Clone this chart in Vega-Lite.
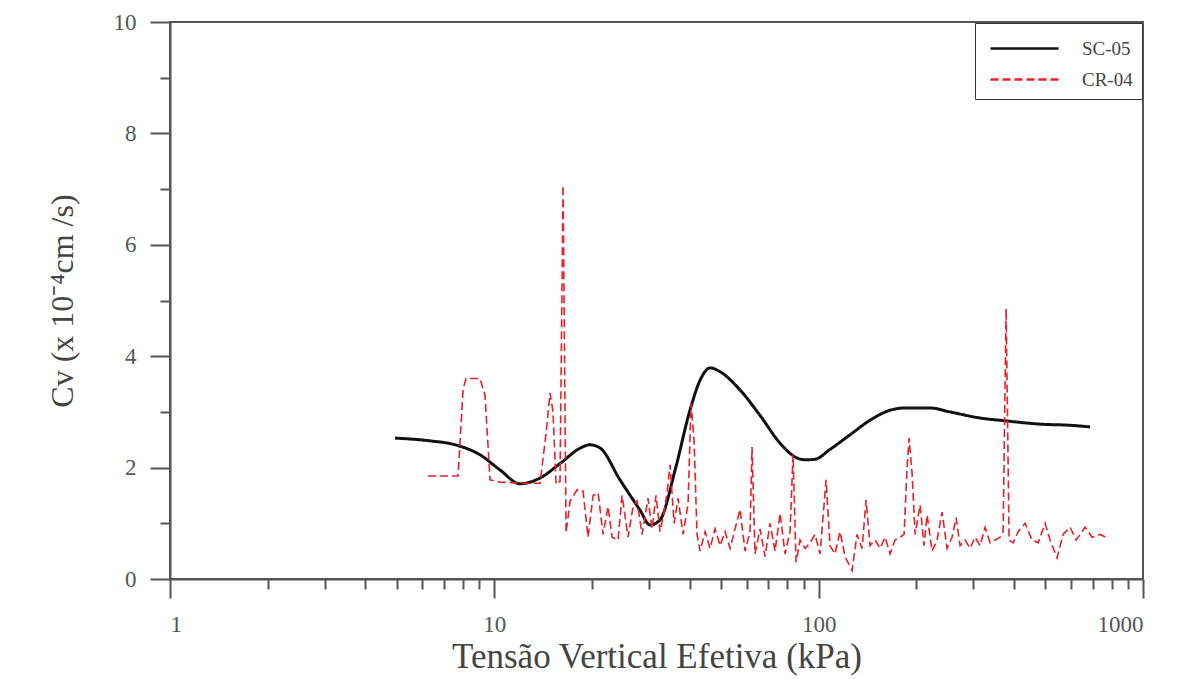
{
  "$schema": "https://vega.github.io/schema/vega-lite/v6.json",
  "width": 973,
  "height": 557,
  "autosize": {"type": "none"},
  "padding": {"left": 170, "top": 22, "right": 37, "bottom": 109},
  "background": "white",
  "config": {
    "view": {"stroke": "#555", "strokeWidth": 2},
    "font": "Liberation Serif, Times New Roman, serif"
  },
  "datasets": {
    "sc05": [
      {"x": 4.94, "y": 2.53}, {"x": 6.34, "y": 2.48}, {"x": 7.57, "y": 2.41}, {"x": 9.03, "y": 2.23},
      {"x": 10.4, "y": 1.96}, {"x": 12.0, "y": 1.71}, {"x": 13.8, "y": 1.81}, {"x": 16.0, "y": 2.08},
      {"x": 18.4, "y": 2.35}, {"x": 19.7, "y": 2.41}, {"x": 21.2, "y": 2.35}, {"x": 24.4, "y": 1.78},
      {"x": 28.1, "y": 1.24}, {"x": 30.2, "y": 0.97}, {"x": 32.4, "y": 1.06}, {"x": 36.1, "y": 1.96},
      {"x": 40.1, "y": 3.03}, {"x": 43.1, "y": 3.57}, {"x": 46.3, "y": 3.79}, {"x": 49.7, "y": 3.72},
      {"x": 57.3, "y": 3.39}, {"x": 65.9, "y": 2.94}, {"x": 76.0, "y": 2.44}, {"x": 84.6, "y": 2.19},
      {"x": 90.8, "y": 2.14}, {"x": 97.5, "y": 2.15}, {"x": 108, "y": 2.32}, {"x": 125, "y": 2.59},
      {"x": 144, "y": 2.85}, {"x": 166, "y": 3.03}, {"x": 185, "y": 3.07}, {"x": 221, "y": 3.07},
      {"x": 254, "y": 3.0}, {"x": 315, "y": 2.89}, {"x": 376, "y": 2.84}, {"x": 482, "y": 2.78},
      {"x": 596, "y": 2.76}, {"x": 687, "y": 2.73}
    ],
    "sc05b": [
      {"x": 4.94, "y": 2.53}, {"x": 7.57, "y": 2.43}, {"x": 9.03, "y": 2.27}, {"x": 10.4, "y": 2.0},
      {"x": 12.0, "y": 1.75}, {"x": 13.8, "y": 1.78}, {"x": 16.0, "y": 2.03}, {"x": 18.4, "y": 2.28},
      {"x": 20.5, "y": 2.38}, {"x": 22.0, "y": 2.3}, {"x": 25.4, "y": 1.75}, {"x": 29.0, "y": 1.2},
      {"x": 31.0, "y": 1.0}, {"x": 33.0, "y": 1.1}, {"x": 37.0, "y": 2.0}, {"x": 41.0, "y": 3.0},
      {"x": 44.0, "y": 3.5}, {"x": 47.5, "y": 3.75}, {"x": 51.0, "y": 3.68}, {"x": 59.0, "y": 3.35},
      {"x": 68.0, "y": 2.9}, {"x": 79.0, "y": 2.4}, {"x": 88.0, "y": 2.18}, {"x": 95.0, "y": 2.12},
      {"x": 102, "y": 2.16}, {"x": 112, "y": 2.3}, {"x": 128, "y": 2.55}, {"x": 148, "y": 2.82},
      {"x": 170, "y": 3.0}, {"x": 200, "y": 3.03}, {"x": 240, "y": 3.0}, {"x": 300, "y": 2.9},
      {"x": 376, "y": 2.84}, {"x": 482, "y": 2.79}, {"x": 687, "y": 2.74}
    ],
    "cr04": [
      {"x": 6.25, "y": 1.85}, {"x": 7.73, "y": 1.85}, {"x": 8.01, "y": 3.4}, {"x": 8.18, "y": 3.6},
      {"x": 9.03, "y": 3.6}, {"x": 9.36, "y": 3.3}, {"x": 9.70, "y": 1.78}, {"x": 10.41, "y": 1.74},
      {"x": 12.0, "y": 1.72}, {"x": 13.83, "y": 1.72}, {"x": 14.43, "y": 2.6}, {"x": 14.85, "y": 3.34},
      {"x": 15.17, "y": 3.0}, {"x": 15.50, "y": 1.7}, {"x": 15.94, "y": 1.75}, {"x": 16.29, "y": 7.07},
      {"x": 16.64, "y": 0.83}, {"x": 17.12, "y": 1.4}, {"x": 17.99, "y": 1.6}, {"x": 18.77, "y": 1.58},
      {"x": 19.45, "y": 0.75}, {"x": 20.16, "y": 1.5}, {"x": 20.89, "y": 1.55}, {"x": 21.64, "y": 0.8},
      {"x": 22.42, "y": 1.3}, {"x": 23.07, "y": 0.75}, {"x": 24.07, "y": 0.7}, {"x": 24.76, "y": 1.5},
      {"x": 25.84, "y": 0.75}, {"x": 26.78, "y": 1.3}, {"x": 27.54, "y": 1.4}, {"x": 28.54, "y": 0.8},
      {"x": 29.78, "y": 1.45}, {"x": 30.64, "y": 0.9}, {"x": 31.52, "y": 1.5}, {"x": 32.43, "y": 0.85},
      {"x": 33.37, "y": 1.2}, {"x": 34.09, "y": 1.55}, {"x": 34.82, "y": 2.05}, {"x": 35.83, "y": 1.0},
      {"x": 36.86, "y": 1.45}, {"x": 38.19, "y": 0.8}, {"x": 39.57, "y": 1.35}, {"x": 40.41, "y": 3.15},
      {"x": 41.28, "y": 2.5}, {"x": 42.17, "y": 0.8}, {"x": 43.09, "y": 0.5}, {"x": 44.64, "y": 0.85},
      {"x": 46.25, "y": 0.55}, {"x": 47.92, "y": 0.9}, {"x": 49.66, "y": 0.6}, {"x": 51.45, "y": 0.85},
      {"x": 53.31, "y": 0.55}, {"x": 55.23, "y": 0.9}, {"x": 57.23, "y": 1.25}, {"x": 59.30, "y": 0.5},
      {"x": 61.43, "y": 0.85}, {"x": 62.31, "y": 2.37}, {"x": 63.65, "y": 0.45}, {"x": 65.95, "y": 0.9},
      {"x": 68.33, "y": 0.4}, {"x": 70.80, "y": 1.0}, {"x": 73.36, "y": 0.5}, {"x": 76.03, "y": 1.18},
      {"x": 78.77, "y": 0.45}, {"x": 81.61, "y": 0.85}, {"x": 83.38, "y": 2.23}, {"x": 85.17, "y": 0.3},
      {"x": 87.61, "y": 0.7}, {"x": 90.82, "y": 0.55}, {"x": 94.09, "y": 0.65}, {"x": 97.48, "y": 0.8},
      {"x": 101.0, "y": 0.45}, {"x": 105.4, "y": 1.78}, {"x": 108.4, "y": 0.6}, {"x": 112.3, "y": 0.45},
      {"x": 116.4, "y": 0.85}, {"x": 120.6, "y": 0.4}, {"x": 126.8, "y": 0.15}, {"x": 131.3, "y": 0.8},
      {"x": 136.1, "y": 0.55}, {"x": 140.0, "y": 1.42}, {"x": 144.0, "y": 0.6}, {"x": 149.3, "y": 0.7},
      {"x": 154.6, "y": 0.55}, {"x": 160.3, "y": 0.75}, {"x": 166.0, "y": 0.45}, {"x": 172.0, "y": 0.7},
      {"x": 178.2, "y": 0.75}, {"x": 183.4, "y": 0.8}, {"x": 187.3, "y": 2.0}, {"x": 190.0, "y": 2.53},
      {"x": 194.1, "y": 1.9}, {"x": 198.3, "y": 0.8}, {"x": 205.5, "y": 1.33}, {"x": 211.3, "y": 0.6},
      {"x": 215.9, "y": 1.15}, {"x": 223.7, "y": 0.5}, {"x": 231.8, "y": 0.7}, {"x": 240.2, "y": 1.2},
      {"x": 248.8, "y": 0.55}, {"x": 257.8, "y": 0.75}, {"x": 265.3, "y": 1.1}, {"x": 272.9, "y": 0.6},
      {"x": 282.8, "y": 0.7}, {"x": 293.0, "y": 0.55}, {"x": 303.6, "y": 0.75}, {"x": 314.5, "y": 0.6},
      {"x": 326.0, "y": 0.93}, {"x": 337.7, "y": 0.65}, {"x": 349.9, "y": 0.7}, {"x": 362.6, "y": 0.75},
      {"x": 370.4, "y": 0.85}, {"x": 378.4, "y": 4.85}, {"x": 386.5, "y": 0.7}, {"x": 397.6, "y": 0.65},
      {"x": 412.0, "y": 0.85}, {"x": 432.9, "y": 1.0}, {"x": 455.0, "y": 0.7}, {"x": 474.8, "y": 0.65},
      {"x": 499.1, "y": 1.0}, {"x": 516.9, "y": 0.7}, {"x": 543.4, "y": 0.38}, {"x": 567.0, "y": 0.8},
      {"x": 596.0, "y": 0.93}, {"x": 622.0, "y": 0.7}, {"x": 662.9, "y": 0.93}, {"x": 696.6, "y": 0.75},
      {"x": 737.5, "y": 0.8}, {"x": 780.5, "y": 0.73}
    ]
  },
  "layer": [
    {
      "data": {"name": "sc05"},
      "transform": [{"calculate": "'SC-05'", "as": "serie"}],
      "mark": {"type": "line", "strokeWidth": 3, "interpolate": "monotone"},
      "encoding": {
        "x": {"field": "x", "type": "quantitative"},
        "y": {"field": "y", "type": "quantitative"},
        "color": {"field": "serie", "type": "nominal"},
        "strokeDash": {"field": "serie", "type": "nominal"}
      }
    },
    {
      "data": {"name": "sc05b"},
      "mark": {"type": "line", "strokeWidth": 1.3, "color": "#777", "interpolate": "monotone"},
      "encoding": {
        "x": {"field": "x", "type": "quantitative"},
        "y": {"field": "y", "type": "quantitative"}
      }
    },
    {
      "data": {"name": "cr04"},
      "transform": [{"calculate": "'CR-04'", "as": "serie"}],
      "mark": {"type": "line", "strokeWidth": 1.6},
      "encoding": {
        "x": {"field": "x", "type": "quantitative"},
        "y": {"field": "y", "type": "quantitative"},
        "color": {"field": "serie", "type": "nominal"},
        "strokeDash": {"field": "serie", "type": "nominal"}
      }
    }
  ],
  "encoding": {
    "x": {
      "field": "x", "type": "quantitative",
      "scale": {"type": "log", "domain": [1, 1000], "nice": false},
      "axis": {
        "title": "Tensão Vertical Efetiva (kPa)",
        "values": [1,2,3,4,5,6,7,8,9,10,20,30,40,50,60,70,80,90,100,200,300,400,500,600,700,800,900,1000],
        "labelExpr": "indexof([1,10,100,1000], datum.value) >= 0 ? format(datum.value, 'd') : ''",
        "labelOverlap": false,
        "labelFontSize": 23,
        "labelColor": "#555",
        "labelPadding": 15,
        "labelFont": "Liberation Serif, Times New Roman, serif",
        "tickSize": {"condition": {"test": "indexof([1,10,100,1000], datum.value) >= 0", "value": 19}, "value": 10},
        "tickColor": "#555",
        "tickWidth": 2,
        "domainColor": "#555",
        "domainWidth": 2,
        "grid": false,
        "titleFont": "Liberation Serif, Times New Roman, serif",
        "titleFontSize": 35,
        "titleFontWeight": "normal",
        "titleColor": "#444",
        "titlePadding": 3
      }
    },
    "y": {
      "field": "y", "type": "quantitative",
      "scale": {"domain": [0, 10], "nice": false},
      "axis": {
        "title": "Cv (x 10⁻⁴cm /s)",
        "values": [0,1,2,3,4,5,6,7,8,9,10],
        "labelExpr": "datum.value % 2 == 0 ? format(datum.value, 'd') : ''",
        "labelOverlap": false,
        "labelFontSize": 23,
        "labelColor": "#555",
        "labelPadding": 14,
        "labelFont": "Liberation Serif, Times New Roman, serif",
        "tickSize": {"condition": {"test": "datum.value % 2 == 0", "value": 20}, "value": 10},
        "tickColor": "#555",
        "tickWidth": 2,
        "domainColor": "#555",
        "domainWidth": 2,
        "grid": false,
        "titleFont": "Liberation Serif, Times New Roman, serif",
        "titleFontSize": 32,
        "titleFontWeight": "normal",
        "titleColor": "#444",
        "titlePadding": 34
      }
    },
    "color": {
      "field": "serie", "type": "nominal",
      "scale": {"domain": ["SC-05", "CR-04"], "range": ["#111111", "#e8202a"]},
      "legend": {
        "title": null,
        "orient": "top-right",
        "offset": 1,
        "strokeColor": "#333",
        "fillColor": "white",
        "padding": 9,
        "symbolType": "M-2.27,0H2.27",
        "symbolSize": 900,
        "symbolOffset": 24,
        "symbolStrokeWidth": 2.5,
        "labelFont": "Liberation Serif, Times New Roman, serif",
        "labelFontSize": 19,
        "labelColor": "#444",
        "labelOffset": 41,
        "rowPadding": 4
      }
    },
    "strokeDash": {
      "field": "serie", "type": "nominal",
      "scale": {"domain": ["SC-05", "CR-04"], "range": [[1, 0], [8, 4]]},
      "legend": {
        "title": null,
        "orient": "top-right",
        "offset": 1,
        "strokeColor": "#333",
        "fillColor": "white",
        "padding": 9,
        "symbolType": "M-2.27,0H2.27",
        "symbolSize": 900,
        "symbolOffset": 24,
        "symbolStrokeWidth": 2.5,
        "labelFont": "Liberation Serif, Times New Roman, serif",
        "labelFontSize": 19,
        "labelColor": "#444",
        "labelOffset": 41,
        "rowPadding": 4
      }
    }
  }
}
